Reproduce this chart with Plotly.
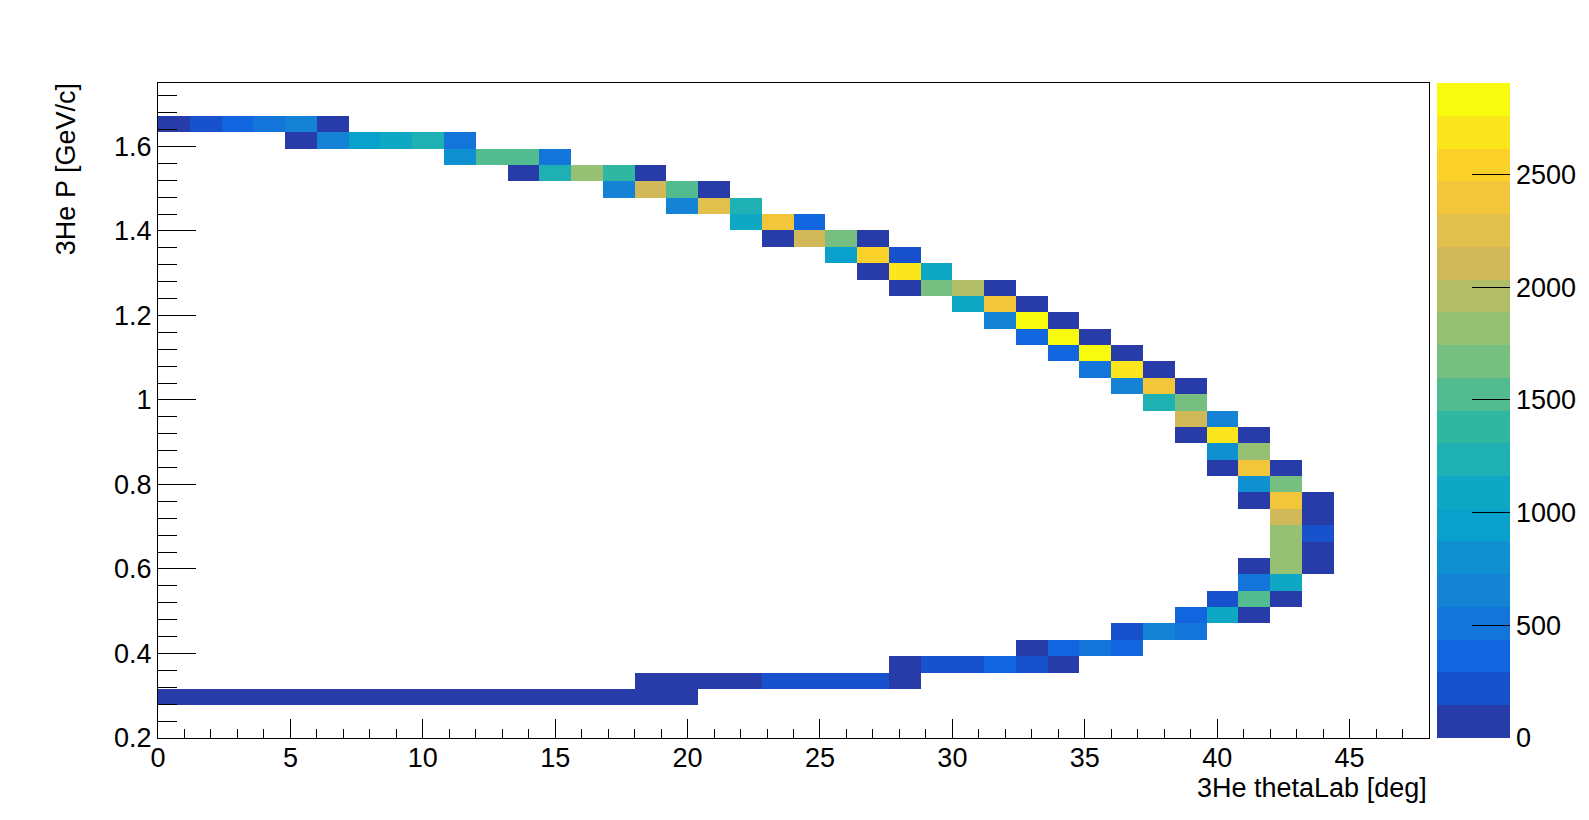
"""
3He momentum vs lab angle, ROOT-style COLZ histogram redrawn with Plotly.
"""

import numpy as np
import plotly.graph_objects as go

# Histogram binning (40 x 40)
THETA_MIN, THETA_MAX, N_THETA = 0.0, 48.0, 40
P_MIN, P_MAX, N_P = 0.2, 1.75, 40

# Filled cells, one entry per momentum row:
# p bin index, first theta bin index, counts along theta
p_bins = [2, 3, 4, 5, 6, 7, 8, 9, 10, 11, 12, 13, 14, 15, 16, 17, 18, 19,
          20, 21, 22, 23, 24, 25, 26, 27, 28, 29, 30, 31, 32, 33, 34, 35, 36, 37]
theta_start = [0, 15, 23, 27, 30, 32, 33, 34, 34, 35, 35, 35, 34, 34, 33, 33, 32, 32,
               31, 30, 29, 28, 27, 26, 25, 23, 22, 21, 19, 18, 16, 14, 11, 9, 4, 0]
counts = [
    [96, 102, 99, 105, 93, 110, 98, 101, 95, 104, 97, 100, 92, 106, 99, 94, 88],
    [70, 118, 112, 120, 205, 230, 226, 212, 84],
    [102, 236, 214, 372, 250, 56],
    [64, 350, 498, 372],
    [226, 650, 512],
    [384, 1104, 72],
    [240, 1540, 60],
    [520, 1080],
    [18, 1830, 45],
    [1800, 75],
    [1822, 205],
    [2110, 90],
    [40, 2390, 60],
    [790, 1660],
    [30, 2405, 55],
    [805, 1810],
    [35, 2690, 48],
    [2120, 660],
    [1240, 1680],
    [640, 2400, 52],
    [500, 2700, 66],
    [370, 2860, 80],
    [355, 2905, 78],
    [650, 2830, 85],
    [1090, 2380, 70],
    [58, 1670, 1955, 90],
    [62, 2680, 1100],
    [950, 2550, 230],
    [48, 2095, 1660, 86],
    [1080, 2410, 360],
    [660, 2260, 1230],
    [650, 2110, 1530, 92],
    [40, 1230, 1820, 1370, 65],
    [800, 1520, 1535, 505],
    [50, 655, 950, 1095, 1240, 515],
    [70, 225, 360, 505, 650, 95],
]

Z_MAX = 2905
# kBird palette, 20 contour levels
bird_colors = [
    "#283ca9", "#1851cc", "#1165de", "#1374d9", "#1483d6",
    "#0e90d1", "#0aa0cc", "#0fa8c4", "#1fb0b4", "#2fb7a2",
    "#52bb90", "#76bf80", "#96c073", "#b2bd68", "#d1b95a",
    "#e2c04c", "#f3c53a", "#fcd22a", "#fbe61e", "#f9fb0e",
]

FONT = "Liberation Sans, Arial, Helvetica, sans-serif"
FS = 27

# Build the 2D grid (empty bins stay blank)
z = [[None] * N_THETA for _ in range(N_P)]
for pb, start, row in zip(p_bins, theta_start, counts):
    for k, val in enumerate(row):
        z[pb][start + k] = val

n_lev = len(bird_colors)
colorscale = []
for k, c in enumerate(bird_colors):
    colorscale.append([k / n_lev, c])
    colorscale.append([(k + 1) / n_lev, c])

theta_edges = np.linspace(THETA_MIN, THETA_MAX, N_THETA + 1)
p_edges = np.linspace(P_MIN, P_MAX, N_P + 1)

fig = go.Figure(
    go.Heatmap(
        x=theta_edges,
        y=p_edges,
        z=z,
        zmin=0,
        zmax=Z_MAX,
        colorscale=colorscale,
        hoverongaps=False,
        colorbar=dict(
            x=1.0063,
            xanchor="left",
            y=0.5,
            yanchor="middle",
            len=1.0,
            thickness=73,
            xpad=0,
            ypad=0,
            outlinewidth=0,
            tickmode="linear",
            tick0=0,
            dtick=500,
            ticks="inside",
            ticklen=38,
            tickcolor="black",
            tickwidth=1,
            tickfont=dict(family=FONT, size=FS, color="black"),
        ),
    )
)

fig.update_xaxes(
    range=[THETA_MIN, THETA_MAX],
    tickmode="linear",
    tick0=0,
    dtick=5,
    ticks="inside",
    ticklen=19,
    tickcolor="black",
    ticklabelstandoff=-4,
    minor=dict(ticks="inside", ticklen=9, dtick=1, tickcolor="black"),
    showline=True,
    linecolor="black",
    linewidth=1,
    mirror=True,
    showgrid=False,
    zeroline=False,
    tickfont=dict(family=FONT, size=FS, color="black"),
)
fig.update_yaxes(
    range=[P_MIN, P_MAX],
    tickmode="linear",
    tick0=0.2,
    dtick=0.2,
    ticks="inside",
    ticklen=38,
    tickcolor="black",
    minor=dict(ticks="inside", ticklen=19, dtick=0.04, tickcolor="black"),
    showline=True,
    linecolor="black",
    linewidth=1,
    mirror=True,
    showgrid=False,
    zeroline=False,
    tickfont=dict(family=FONT, size=FS, color="black"),
)

fig.add_annotation(
    text="3He thetaLab [deg]", xref="paper", yref="paper",
    x=1, y=-0.076, xanchor="right", yanchor="middle",
    showarrow=False, font=dict(family=FONT, size=FS, color="black"),
)
fig.add_annotation(
    text="3He P [GeV/c]", xref="paper", yref="paper",
    x=-0.0723, y=1.003, xanchor="center", yanchor="top", textangle=-90,
    showarrow=False, font=dict(family=FONT, size=FS, color="black"),
)

fig.update_layout(
    width=1589,
    height=820,
    margin=dict(l=150, r=168, t=75, b=90, autoexpand=False),
    paper_bgcolor="white",
    plot_bgcolor="white",
    font=dict(family=FONT, color="black"),
    showlegend=False,
)

fig.write_html("out.html")
